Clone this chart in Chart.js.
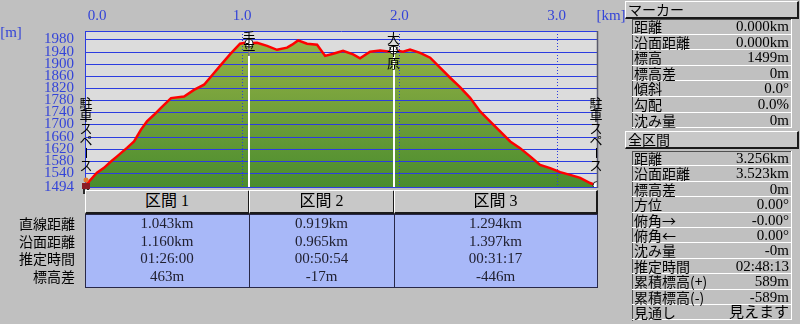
<!DOCTYPE html>
<html>
<head>
<meta charset="utf-8">
<script src="https://cdn.jsdelivr.net/npm/chart.js@4.4.0/dist/chart.umd.min.js"></script>
<style>
body{margin:0;width:800px;height:324px;background:#c0c0c0;overflow:hidden;position:relative;font-family:"Noto Sans CJK JP",sans-serif;color:#000}
#wrap{position:absolute;left:0;top:0;width:800px;height:324px}
.abs{position:absolute;box-sizing:border-box;white-space:nowrap}
.hdr{background:#c8c8c8;border-top:1px solid #fff;border-left:1px solid #fff;border-right:2px solid #1a1a1a;border-bottom:2px solid #1a1a1a}
.num{font-family:"Liberation Serif","Noto Sans CJK JP",serif;font-size:15px}
.secbody{background:#a8b8f8;border:1px solid #282848}
.rowlab{font-size:14px;text-align:right}
.pbox{border-top:1px solid #505050;border-left:1px solid #505050}
.prow{border-bottom:1px solid #fff;border-right:1px solid #fff;font-size:14px;padding:0 2px}
.prow span.v{position:absolute;right:2px;top:0}
</style>
</head>
<body>
<div id="wrap"><canvas id="profile"></canvas></div>
<script>
// elevation profile (km along route, m)
const distKm = [0, 0.025, 0.076, 0.121, 0.165, 0.204, 0.267, 0.312, 0.356, 0.394, 0.439, 0.483, 0.547, 0.630, 0.693, 0.757, 0.795, 0.859, 0.922, 0.986, 1.018, 1.043, 1.094, 1.158, 1.221, 1.285, 1.317, 1.355, 1.412, 1.476, 1.527, 1.578, 1.641, 1.705, 1.749, 1.813, 1.877, 1.940, 1.962, 2.023, 2.067, 2.131, 2.195, 2.258, 2.322, 2.385, 2.449, 2.513, 2.576, 2.640, 2.704, 2.767, 2.831, 2.894, 2.958, 3.022, 3.085, 3.149, 3.212, 3.256];
const elevM = [1499, 1512, 1541, 1557, 1578, 1595, 1623, 1644, 1683, 1710, 1732, 1755, 1787, 1792, 1814, 1831, 1854, 1893, 1931, 1966, 1969, 1968, 1969, 1959, 1946, 1953, 1963, 1977, 1966, 1963, 1926, 1933, 1943, 1931, 1918, 1940, 1944, 1940, 1945, 1940, 1947, 1936, 1920, 1887, 1854, 1823, 1788, 1743, 1710, 1677, 1644, 1622, 1595, 1567, 1556, 1543, 1534, 1524, 1507, 1499];

const yTicks = [1494, 1540, 1580, 1620, 1660, 1700, 1740, 1780, 1820, 1860, 1900, 1940, 1980];
const xTicks = [0, 1, 2, 3];

const waypointKm = [0, 1.043, 1.962, 3.256];
const waypointElev = [1499, 1968, 1945, 1499];
const waypointNames = ['駐車スペース', '手平', '大平原', '駐車スペース'];

const sectionNames = ['区間 1', '区間 2', '区間 3'];
const sectionEnds = [1.043, 1.962, 3.256];
const rowLabels = ['直線距離', '沿面距離', '推定時間', '標高差'];
const section1 = ['1.043km', '1.160km', '01:26:00', '463m'];
const section2 = ['0.919km', '0.965km', '00:50:54', '-17m'];
const section3 = ['1.294km', '1.397km', '00:31:17', '-446m'];

const markerLabels = ['距離', '沿面距離', '標高', '標高差', '傾斜', '勾配', '沈み量'];
const markerValues = ['0.000km', '0.000km', '1499m', '0m', '0.0°', '0.0%', '0m'];
const totalLabels = ['距離', '沿面距離', '標高差', '方位', '俯角→', '俯角←', '沈み量', '推定時間', '累積標高(+)', '累積標高(-)', '見通し'];
const totalValues = ['3.256km', '3.523km', '0m', '0.00°', '-0.00°', '0.00°', '-0m', '02:48:13', '589m', '-589m', '見えます'];

const gridBlue = '#2c3ce0';
const labelBlue = '#3444d8';

const pts = distKm.map((d, i) => ({x: d, y: elevM[i]}));
const wps = waypointKm.map((d, i) => ({x: d, y: waypointElev[i]}));

function drawVertical(ctx, text, cx, cy0, pitch) {
  [...text].forEach((ch, i) => {
    const cy = cy0 + i * pitch;
    if (ch === 'ー') {
      ctx.beginPath();
      ctx.moveTo(cx + 0.5, cy - 5);
      ctx.lineTo(cx + 0.5, cy + 5);
      ctx.stroke();
    } else {
      ctx.fillText(ch, cx, cy);
    }
  });
}

const profileDecor = {
  id: 'profileDecor',
  beforeDraw(chart) {
    const {ctx, chartArea: a} = chart;
    ctx.save();
    ctx.fillStyle = '#dcdcdc';
    ctx.fillRect(a.left, a.top, a.right - a.left, a.bottom - a.top);
    ctx.restore();
  },
  afterDatasetDraw(chart, args) {
    if (args.index !== 1) return;
    const {ctx, chartArea: a, scales: {x, y}} = chart;
    ctx.save();
    ctx.strokeStyle = gridBlue;
    ctx.lineWidth = 1;
    yTicks.forEach(v => {
      const py = Math.round(y.getPixelForValue(v)) + 0.5;
      ctx.beginPath(); ctx.moveTo(a.left, py); ctx.lineTo(a.right, py); ctx.stroke();
    });
    ctx.setLineDash([1, 2]);
    xTicks.forEach(v => {
      if (v === 0) return;
      const px = Math.round(x.getPixelForValue(v)) + 0.5;
      ctx.beginPath(); ctx.moveTo(px, a.top); ctx.lineTo(px, a.bottom); ctx.stroke();
    });
    ctx.setLineDash([]);
    ctx.strokeStyle = '#ffffff';
    ctx.lineWidth = 2;
    sectionEnds.slice(0, -1).forEach((d, i) => {
      const px = Math.round(x.getPixelForValue(d));
      ctx.beginPath(); ctx.moveTo(px, y.getPixelForValue(waypointElev[i + 1])); ctx.lineTo(px, a.bottom); ctx.stroke();
    });
    ctx.restore();
  },
  afterDraw(chart) {
    const {ctx, chartArea: a, scales: {x, y}} = chart;
    ctx.save();
    // right frame
    ctx.strokeStyle = '#5a5a6a';
    ctx.lineWidth = 1.5;
    ctx.beginPath(); ctx.moveTo(a.right + 0.5, a.top); ctx.lineTo(a.right + 0.5, a.bottom + 1); ctx.stroke();

    // top km labels
    ctx.fillStyle = labelBlue;
    ctx.font = '15px "Liberation Serif"';
    ctx.textAlign = 'center';
    ctx.textBaseline = 'middle';
    xTicks.forEach(v => {
      const px = Math.max(x.getPixelForValue(v), a.left + 12);
      ctx.fillText(v.toFixed(1), px, 16);
    });
    ctx.fillText('[km]', 611, 16);
    ctx.fillText('[m]', 11, 33);

    // waypoint names
    ctx.fillStyle = '#000';
    ctx.strokeStyle = '#000';
    ctx.lineWidth = 1;
    ctx.font = '13px "Noto Sans CJK JP"';
    waypointNames.forEach((name, i) => {
      const px = x.getPixelForValue(waypointKm[i]);
      const py = y.getPixelForValue(waypointElev[i]);
      const n = [...name].length;
      const pitch = 12.5;
      if (i === 0 || i === waypointNames.length - 1) {
        drawVertical(ctx, name, px + (i === 0 ? 1 : -1), py - 20 - (n - 1) * pitch, pitch);
      } else {
        drawVertical(ctx, name, px, py - (n - 1) * pitch / 2, pitch);
      }
    });

    // hiker at start
    const sx = x.getPixelForValue(waypointKm[0]);
    const sy = y.getPixelForValue(yTicks[0]);
    ctx.fillStyle = '#e07a30';
    ctx.beginPath(); ctx.arc(sx + 1, sy - 7, 2.5, 0, Math.PI * 2); ctx.fill();
    ctx.fillStyle = '#8c1c24';
    ctx.fillRect(sx - 3, sy - 4, 8, 6);
    ctx.fillStyle = '#2a2a2a';
    ctx.fillRect(sx - 2, sy + 2, 2, 5);
    ctx.fillRect(sx + 2, sy + 2, 2, 5);
    ctx.restore();
  }
};

const chart = new Chart(document.getElementById('profile'), {
  type: 'line',
  data: {
    datasets: [
      {
        label: 'profile',
        data: pts,
        borderColor: '#ff0000',
        borderWidth: 2.5,
        pointRadius: 0,
        tension: 0,
        fill: false,
        order: 0
      },
      {
        label: 'fill',
        data: pts,
        borderWidth: 0,
        pointRadius: 0,
        tension: 0,
        fill: 'start',
        backgroundColor: function(c) {
          const a = c.chart.chartArea;
          if (!a) return '#7ca040';
          const g = c.chart.ctx.createLinearGradient(0, a.top, 0, a.bottom);
          g.addColorStop(0, '#9ab447');
          g.addColorStop(1, '#4a8c2e');
          return g;
        },
        order: 1
      },
      {
        type: 'scatter',
        label: 'waypoints',
        data: wps.slice(1),
        pointRadius: 4,
        pointBackgroundColor: '#ffffff',
        pointBorderColor: '#222222',
        pointBorderWidth: 1,
        order: -1
      }
    ]
  },
  options: {
    responsive: true,
    maintainAspectRatio: false,
    animation: false,
    layout: {padding: {left: 0, top: 0, right: 203, bottom: 137}},
    plugins: {legend: {display: false}, tooltip: {enabled: false}},
    scales: {
      x: {
        type: 'linear',
        position: 'top',
        min: 0,
        max: 3.256,
        grid: {display: false, drawTicks: false},
        border: {display: true, color: gridBlue, width: 1},
        ticks: {display: false},
        afterFit: function(s) { s.height = 31; }
      },
      y: {
        min: 1494,
        max: 2008,
        grid: {display: false, drawTicks: false},
        border: {display: true, color: gridBlue, width: 1},
        afterBuildTicks: function(s) { s.ticks = yTicks.map(v => ({value: v})); },
        ticks: {
          color: labelBlue,
          padding: 11,
          font: {family: 'Liberation Serif', size: 15},
          autoSkip: false,
          callback: function(value) { return String(value); }
        },
        afterFit: function(s) { s.width = 85; }
      }
    }
  },
  plugins: [profileDecor]
});

function el(cls, css, text) {
  const d = document.createElement('div');
  d.className = 'abs ' + cls;
  Object.assign(d.style, css);
  if (text !== undefined) d.textContent = text;
  document.body.appendChild(d);
  return d;
}

// section table below the profile
const xs = [chart.chartArea.left].concat(sectionEnds.map(d => Math.round(chart.scales.x.getPixelForValue(d))));
xs[xs.length - 1] = chart.chartArea.right;
const sectionCols = [section1, section2, section3];
sectionNames.forEach((name, i) => {
  el('hdr num', {left: xs[i] + 'px', top: '190px', width: (xs[i + 1] - xs[i] + 1) + 'px', height: '24px',
    textAlign: 'center', lineHeight: '20px', fontSize: '16px'}, name);
});
el('secbody', {left: xs[0] + 'px', top: '214px', width: (xs[3] - xs[0] + 1) + 'px', height: '74px'});
[xs[1], xs[2]].forEach(px => el('', {left: px + 'px', top: '214px', width: '1px', height: '74px', background: '#282848'}));
rowLabels.forEach((lab, r) => {
  const top = 215 + r * 17.6;
  el('rowlab', {left: '0px', width: '75px', top: top + 'px', height: '17.6px', lineHeight: '17.6px'}, lab);
  sectionCols.forEach((col, i) => {
    el('num', {left: xs[i] + 'px', width: (xs[i + 1] - xs[i]) + 'px', top: top + 'px', height: '17.6px',
      lineHeight: '17.6px', textAlign: 'center', color: '#202030'}, col[r]);
  });
});

// side panels
function panel(title, hdrTop, boxTop, pitch, labels, values) {
  el('hdr', {left: '625px', top: hdrTop + 'px', width: '174px', height: '18px', fontSize: '14px',
    lineHeight: '15px', paddingLeft: '2px'}, title);
  el('pbox', {left: '632px', top: boxTop + 'px', width: '160px', height: (pitch * labels.length + 1) + 'px'});
  labels.forEach((lab, i) => {
    const r = el('prow', {left: '632px', top: (boxTop + i * pitch) + 'px', width: '160px', height: pitch + 'px',
      lineHeight: (pitch - 1) + 'px'});
    const l = document.createElement('span');
    l.textContent = lab;
    r.appendChild(l);
    const v = document.createElement('span');
    v.className = 'v num';
    v.style.lineHeight = (pitch - 1) + 'px';
    v.textContent = values[i];
    r.appendChild(v);
  });
}
panel('マーカー', 1, 19, 15.6, markerLabels, markerValues);
panel('全区間', 131, 151, 15.4, totalLabels, totalValues);
</script>
</body>
</html>
